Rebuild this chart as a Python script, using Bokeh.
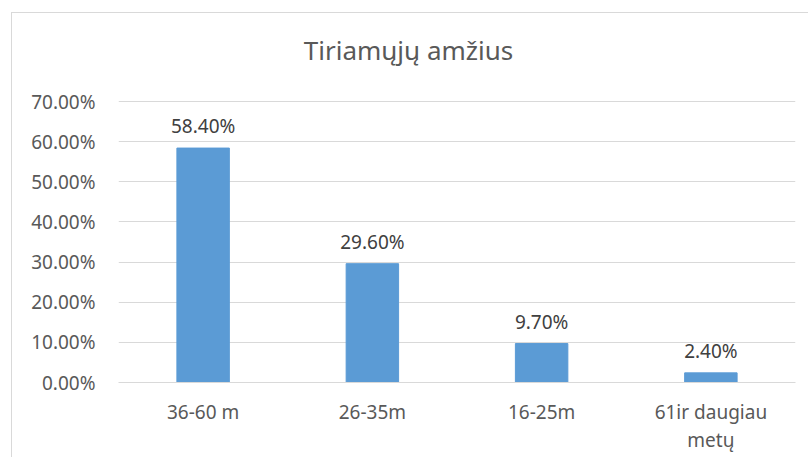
from bokeh.plotting import figure
from bokeh.models import ColumnDataSource, LabelSet, Label, FixedTicker, NumeralTickFormatter, Range1d
from bokeh.core.properties import value
from bokeh.embed import file_html
from bokeh.resources import INLINE

categories = ["36-60 m", "26-35m", "16-25m", "61ir daugiau\nmetų"]
values = [0.584, 0.296, 0.097, 0.024]
value_labels = ["58.40%", "29.60%", "9.70%", "2.40%"]
y_ticks = [0.0, 0.1, 0.2, 0.3, 0.4, 0.5, 0.6, 0.7]
title_text = "Tiriamųjų amžius"

FONT = "Noto Sans"

src = ColumnDataSource(data=dict(cat=categories, val=values, lab=value_labels))

# frame extends above the top gridline to leave room for the title
p = figure(x_range=categories, y_range=Range1d(0, 0.8694), width=797, height=445,
           output_backend="svg", toolbar_location=None,
           min_border_left=106, min_border_right=14, min_border_top=20, min_border_bottom=76)
p.styles = {"border-left": "1px solid #D9D9D9", "border-top": "1px solid #D9D9D9",
            "margin-left": "11px", "margin-top": "12px"}

title = Label(x=290, y=333, x_units="screen", y_units="screen", text=title_text,
              text_align="center", text_baseline="alphabetic",
              text_font=FONT, text_font_size="26px", text_color="#595959")
p.add_layout(title)

p.vbar(x="cat", top="val", width=0.31, source=src, color="#5B9BD5")

labels = LabelSet(x="cat", y="val", text="lab", source=src, y_offset=9,
                  text_align="center", text_baseline="bottom",
                  text_font=value(FONT), text_font_size=value("19px"),
                  text_color="#404040")
p.add_layout(labels)

p.outline_line_color = None
p.xgrid.grid_line_color = None
p.ygrid.grid_line_color = "#D9D9D9"
p.ygrid.grid_line_width = 1

p.yaxis.ticker = FixedTicker(ticks=y_ticks)
p.yaxis.formatter = NumeralTickFormatter(format="0.00%")
p.yaxis.axis_line_color = None
p.yaxis.major_tick_line_color = None
p.yaxis.minor_tick_line_color = None
p.yaxis.major_label_standoff = 17
p.yaxis.major_label_text_font = FONT
p.yaxis.major_label_text_font_size = "19px"
p.yaxis.major_label_text_color = "#595959"

p.xaxis.axis_line_color = "#D9D9D9"
p.xaxis.major_tick_line_color = None
p.xaxis.minor_tick_line_color = None
p.xaxis.major_label_standoff = 10
p.xaxis.major_label_text_font = FONT
p.xaxis.major_label_text_font_size = "19px"
p.xaxis.major_label_text_color = "#595959"
p.xaxis.major_label_text_line_height = 1.08

p.x_range.range_padding = 0

open("out.html", "w").write(file_html(p, INLINE))
